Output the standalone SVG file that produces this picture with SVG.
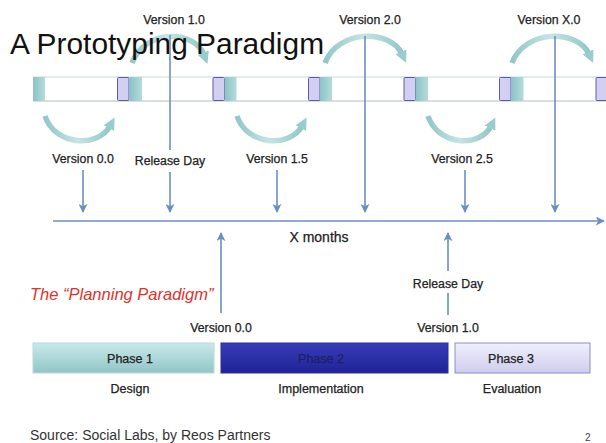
<svg xmlns="http://www.w3.org/2000/svg" width="606" height="443" viewBox="0 0 606 443">
<defs>
<style>
.t{font-family:"Liberation Sans",Arial,Helvetica,sans-serif;fill:#222;}
.lbl{font-size:12.3px;text-anchor:middle;stroke:#222;stroke-width:0.25;}
.ph{font-size:12.5px;text-anchor:middle;stroke:#222;stroke-width:0.25;}
.ax{fill:none;stroke:#6b8fc3;stroke-width:1.6;}
.arc{fill:none;stroke:url(#arcg);stroke-width:5.5;stroke-linecap:butt;}
.pur{fill:#d3cff3;stroke:#5f58ad;stroke-width:1;}
.teal{fill:url(#tealg);}
</style>
<linearGradient id="tealg" x1="0" y1="0" x2="1" y2="0">
<stop offset="0" stop-color="#8cc3c3"/><stop offset="1" stop-color="#b3dcdc"/>
</linearGradient>
<linearGradient id="arcg" x1="0" y1="0" x2="1" y2="0">
<stop offset="0" stop-color="#93c7c7"/><stop offset="0.5" stop-color="#c6e4e4"/><stop offset="1" stop-color="#93c7c7"/>
</linearGradient>
<linearGradient id="p1g" x1="0" y1="0" x2="0" y2="1">
<stop offset="0" stop-color="#c8e9eb"/><stop offset="1" stop-color="#92c5c6"/>
</linearGradient>
<linearGradient id="p2g" x1="0" y1="0" x2="0" y2="1">
<stop offset="0" stop-color="#383db8"/><stop offset="1" stop-color="#1f2396"/>
</linearGradient>
<linearGradient id="p3g" x1="0" y1="0" x2="0" y2="1">
<stop offset="0" stop-color="#f1f0fb"/><stop offset="1" stop-color="#cfcdef"/>
</linearGradient>
<marker id="ah" viewBox="0 0 10 10" refX="9" refY="5" markerWidth="9" markerHeight="9" markerUnits="userSpaceOnUse" orient="auto">
<path d="M0,0 L10,5 L0,10 L2.5,5 z" fill="#6b8fc3"/>
</marker>
<marker id="ch" viewBox="0 0 10 10" refX="2" refY="5" markerWidth="12" markerHeight="12" markerUnits="userSpaceOnUse" orient="auto">
<path d="M0,0 L10,5 L0,10 z" fill="#9acccc"/>
</marker>
</defs>
<rect width="606" height="443" fill="#ffffff"/>

<g id="timeline-bar">
<rect x="33" y="77" width="580" height="24" fill="#ffffff"/>
<line x1="33" y1="77" x2="606" y2="77" stroke="#cdd9dc" stroke-width="1"/>
<line x1="33" y1="101" x2="606" y2="101" stroke="#b3bfc2" stroke-width="1.2"/>
<rect class="teal" x="33" y="77" width="12" height="24"/>
<rect class="pur" x="117.5" y="77.5" width="11.5" height="23" rx="1"/>
<rect class="teal" x="129.5" y="77" width="12.5" height="24"/>
<rect class="pur" x="213" y="77.5" width="11.5" height="23" rx="1"/>
<rect class="teal" x="224.5" y="77" width="12" height="24"/>
<rect class="pur" x="308.5" y="77.5" width="11.5" height="23" rx="1"/>
<rect class="teal" x="320" y="77" width="12" height="24"/>
<rect class="pur" x="404" y="77.5" width="11.5" height="23" rx="1"/>
<rect class="teal" x="415.5" y="77" width="12.5" height="24"/>
<rect class="pur" x="499.5" y="77.5" width="11.5" height="23" rx="1"/>
<rect class="teal" x="511" y="77" width="12.5" height="24"/>
<rect class="pur" x="596" y="77.5" width="11.5" height="23" rx="1"/>
</g>

<g id="cycle-arrows">
<path class="arc" d="M132,63 C145,29 194,29 204,55" marker-end="url(#ch)"/>
<path class="arc" d="M325,63 C338,29 390,29 402,54" marker-end="url(#ch)"/>
<path class="arc" d="M512,63 C525,29 577,29 589,54" marker-end="url(#ch)"/>
<path class="arc" d="M45,116 C55,146 98,148 110,126" marker-end="url(#ch)"/>
<path class="arc" d="M237,116 C247,146 290,148 302,126" marker-end="url(#ch)"/>
<path class="arc" d="M428,116 C438,146 480,148 491,126" marker-end="url(#ch)"/>
</g>

<g id="title">
<text class="t" x="10" y="54" font-size="29.9" style="fill:#111">A Prototyping Paradigm</text>
</g>

<g id="connectors">
<path class="ax" d="M53,221 H604" marker-end="url(#ah)"/>
<path class="ax" d="M170,35 V150"/>
<path class="ax" d="M83,170 V212" marker-end="url(#ah)"/>
<path class="ax" d="M170,172 V212" marker-end="url(#ah)"/>
<path class="ax" d="M277,170 V212" marker-end="url(#ah)"/>
<path class="ax" d="M365,36 V212" marker-end="url(#ah)"/>
<path class="ax" d="M465,170 V212" marker-end="url(#ah)"/>
<path class="ax" d="M555,36 V212" marker-end="url(#ah)"/>
<path class="ax" d="M221,313 V233" marker-end="url(#ah)"/>
<path class="ax" d="M448,271 V233" marker-end="url(#ah)"/>
<path class="ax" d="M448,293 V315"/>
</g>

<g id="labels-top">
<text class="t lbl" x="174" y="24">Version 1.0</text>
<text class="t lbl" x="370" y="24">Version 2.0</text>
<text class="t lbl" x="549" y="24">Version X.0</text>
</g>
<g id="labels-mid">
<text class="t lbl" x="83" y="163">Version 0.0</text>
<text class="t lbl" x="170" y="165">Release Day</text>
<text class="t lbl" x="277" y="163">Version 1.5</text>
<text class="t lbl" x="462" y="163">Version 2.5</text>
<text class="t" x="319" y="242" font-size="14" text-anchor="middle" stroke="#222" stroke-width="0.25">X months</text>
</g>

<g id="planning-title">
<text class="t" x="30" y="300" font-size="16.5" font-style="italic" style="fill:#e0322b">The “Planning Paradigm”</text>
</g>
<g id="labels-bottom">
<text class="t lbl" x="221" y="332">Version 0.0</text>
<text class="t lbl" x="448" y="288">Release Day</text>
<text class="t lbl" x="448" y="332">Version 1.0</text>
</g>

<g id="phase1">
<rect x="33" y="343" width="181" height="30" fill="url(#p1g)" stroke="#b9d9da" stroke-width="1"/>
<text class="t ph" x="130" y="363">Phase 1</text>
<text class="t ph" x="130" y="393">Design</text>
</g>
<g id="phase2">
<rect x="221" y="343" width="227" height="30" fill="url(#p2g)" stroke="#2a2e9e" stroke-width="1"/>
<text class="t ph" x="321" y="363" style="fill:#1b1f6c;stroke:#1b1f6c">Phase 2</text>
<text class="t ph" x="321" y="393">Implementation</text>
</g>
<g id="phase3">
<rect x="455" y="343" width="135" height="30" fill="url(#p3g)" stroke="#8f8bc6" stroke-width="1"/>
<text class="t ph" x="511" y="363">Phase 3</text>
<text class="t ph" x="512" y="393">Evaluation</text>
</g>

<g id="footer">
<text class="t" x="30" y="440" font-size="14" style="fill:#333">Source: Social Labs, by Reos Partners</text>
<text class="t" x="585" y="441" font-size="10" style="fill:#444">2</text>
</g>
</svg>
